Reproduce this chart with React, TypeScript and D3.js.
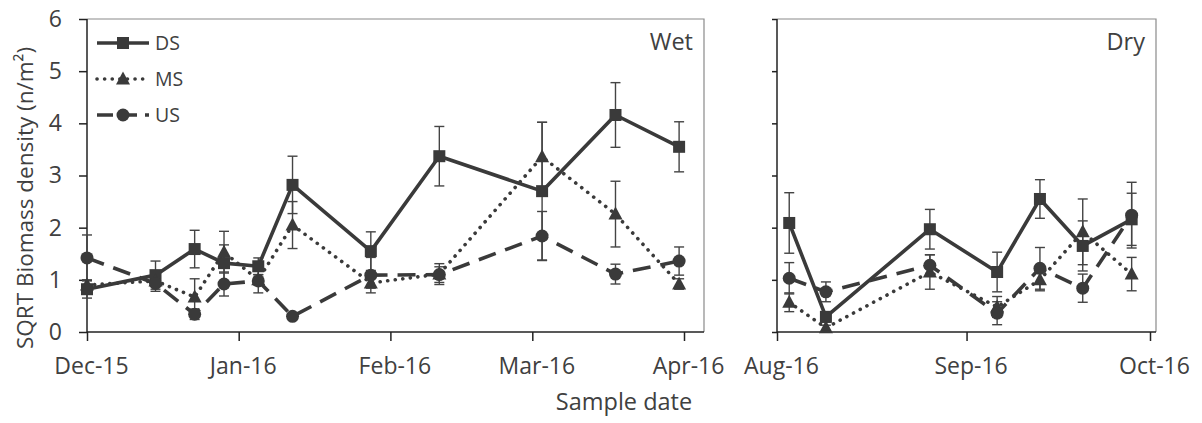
import React, { useEffect, useRef } from 'react';
import * as d3 from 'd3';

// series order: DS, MS, US
const seriesNames = ['DS', 'MS', 'US'];

const wetDates = ['2015-12-01', '2015-12-15', '2015-12-23', '2015-12-29', '2016-01-05', '2016-01-12',
  '2016-01-28', '2016-02-11', '2016-03-03', '2016-03-18', '2016-03-31'];
const wetDS = [0.82, 1.09, 1.59, 1.32, 1.26, 2.82, 1.55, 3.37, 2.70, 4.16, 3.55];
const wetDSErr = [0.17, 0.27, 0.36, 0.35, 0.16, 0.55, 0.37, 0.57, 1.32, 0.62, 0.48];
const wetMS = [0.90, 0.98, 0.67, 1.53, 1.00, 2.05, 0.94, 1.11, 3.36, 2.26, 0.92];
const wetMSErr = [0.10, 0.10, 0.35, 0.40, 0.10, 0.45, 0.10, 0.20, 0.66, 0.63, 0.10];
const wetUS = [1.42, 0.93, 0.34, 0.92, 0.98, 0.30, 1.09, 1.10, 1.84, 1.11, 1.36];
const wetUSErr = [0.44, 0.15, 0.10, 0.23, 0.23, 0.05, 0.34, 0.15, 0.47, 0.19, 0.27];

const dryDates = ['2016-08-03', '2016-08-09', '2016-08-26', '2016-09-06', '2016-09-13', '2016-09-20', '2016-09-28'];
const dryDS = [2.09, 0.29, 1.97, 1.15, 2.55, 1.65, 2.16];
const dryDSErr = [0.58, 0.10, 0.38, 0.38, 0.37, 0.48, 0.50];
const dryMS = [0.57, 0.08, 1.15, 0.48, 1.00, 1.92, 1.11];
const dryMSErr = [0.18, 0.05, 0.33, 0.20, 0.21, 0.63, 0.32];
const dryUS = [1.03, 0.77, 1.28, 0.36, 1.22, 0.84, 2.24];
const dryUSErr = [0.30, 0.19, 0.20, 0.22, 0.40, 0.27, 0.63];

const wetTicks = ['2015-12-01', '2016-01-01', '2016-02-01', '2016-03-01', '2016-04-01'];
const dryTicks = ['2016-08-01', '2016-09-01', '2016-10-01'];
const yTicks = [0, 1, 2, 3, 4, 5, 6];

const FONT = '"Open Sans", sans-serif';
const INK = '#3a3a3a';
const TXT = '#404040';

const parse = d3.timeParse('%Y-%m-%d');

const App: React.FC = () => {
  const svgRef = useRef<SVGSVGElement>(null);

  useEffect(() => {
    if (!svgRef.current) return;
    const svg = d3.select(svgRef.current).html('');

    const y = d3.scaleLinear().domain([0, 6]).range([332, 19]);
    const top = 19;
    const bottom = 332;

    const dashes: Record<string, string> = { DS: '', MS: '0.1 7.5', US: '18 10' };
    const caps: Record<string, string> = { DS: 'butt', MS: 'round', US: 'butt' };

    const marker = (sel: any, name: string, cx: number, cy: number) => {
      if (name === 'DS') {
        sel.append('rect').attr('x', cx - 6).attr('y', cy - 6).attr('width', 12).attr('height', 12).attr('fill', INK);
      } else if (name === 'MS') {
        sel.append('path').attr('d', `M${cx},${cy - 7.5}L${cx + 7},${cy + 5.5}L${cx - 7},${cy + 5.5}Z`).attr('fill', INK);
      } else {
        sel.append('circle').attr('cx', cx).attr('cy', cy).attr('r', 6.5).attr('fill', INK);
      }
    };

    const drawPanel = (
      x0: number, x1: number, dateStrs: string[], ticks: string[],
      vals: number[][], errs: number[][], label: string, showY: boolean, yTick: number
    ) => {
      const x = d3.scaleTime()
        .domain([parse(ticks[0]) as Date, parse(ticks[ticks.length - 1]) as Date])
        .range([x0, showY ? 684 : 1150]);
      const dates = dateStrs.map(d => parse(d) as Date);
      const g = svg.append('g');

      // frame: top & right grey
      g.append('path').attr('d', `M${x0},${top}H${x1}V${bottom}`)
        .attr('fill', 'none').attr('stroke', '#8a8a8a').attr('stroke-width', 1.2);

      // y axis
      const yAxis = d3.axisLeft(y).tickValues(yTicks).tickSize(yTick).tickSizeOuter(0).tickPadding(25 - yTick)
        .tickFormat(showY ? (d3.format('d') as any) : () => '');
      const ya = g.append('g').attr('transform', `translate(${x0},0)`).call(yAxis);
      ya.select('.domain').remove();
      ya.selectAll('line').attr('stroke', '#222').attr('stroke-width', 1.5);
      ya.selectAll('text').attr('font-family', FONT).attr('font-size', 23).attr('fill', TXT);

      // x axis
      const xAxis = d3.axisBottom(x).tickValues(ticks.map(t => parse(t) as Date)).tickSize(9).tickSizeOuter(0)
        .tickPadding(17).tickFormat(d3.timeFormat('%b-%y') as any);
      const xa = g.append('g').attr('transform', `translate(0,${bottom})`).call(xAxis);
      xa.select('.domain').remove();
      xa.selectAll('line').attr('stroke', '#222').attr('stroke-width', 1.5);
      xa.selectAll('text').attr('font-family', FONT).attr('font-size', 23).attr('fill', TXT).attr('dx', 4);

      g.append('line').attr('x1', x0).attr('x2', x0).attr('y1', top).attr('y2', bottom)
        .attr('stroke', '#222').attr('stroke-width', 1.5);
      g.append('line').attr('x1', x0).attr('x2', x1).attr('y1', bottom).attr('y2', bottom)
        .attr('stroke', '#222').attr('stroke-width', 1.5);

      // error bars
      seriesNames.forEach((name, si) => {
        dates.forEach((d, i) => {
          const cx = x(d);
          const hi = y(vals[si][i] + errs[si][i]);
          const lo = y(Math.max(0, vals[si][i] - errs[si][i]));
          const eb = g.append('g').attr('stroke', '#444').attr('stroke-width', 1.4);
          eb.append('line').attr('x1', cx).attr('x2', cx).attr('y1', hi).attr('y2', lo);
          eb.append('line').attr('x1', cx - 5).attr('x2', cx + 5).attr('y1', hi).attr('y2', hi);
          eb.append('line').attr('x1', cx - 5).attr('x2', cx + 5).attr('y1', lo).attr('y2', lo);
        });
      });

      // lines and markers
      seriesNames.forEach((name, si) => {
        const line = d3.line<number>().x((_, i) => x(dates[i])).y(v => y(v));
        g.append('path').datum(vals[si]).attr('d', line).attr('fill', 'none')
          .attr('stroke', INK).attr('stroke-width', 3.6)
          .attr('stroke-dasharray', dashes[name]).attr('stroke-linecap', caps[name])
          .attr('stroke-linejoin', 'round');
        vals[si].forEach((v, i) => marker(g, name, x(dates[i]), y(v)));
      });

      g.append('text').attr('x', x1 - 11).attr('y', 50).attr('text-anchor', 'end')
        .attr('font-family', FONT).attr('font-size', 23.5).attr('fill', TXT).text(label);
    };

    drawPanel(87, 704, wetDates, wetTicks, [wetDS, wetMS, wetUS], [wetDSErr, wetMSErr, wetUSErr], 'Wet', true, 8);
    drawPanel(777, 1156, dryDates, dryTicks, [dryDS, dryMS, dryUS], [dryDSErr, dryMSErr, dryUSErr], 'Dry', false, 5);

    // legend
    const lg = svg.append('g');
    seriesNames.forEach((name, i) => {
      const ly = 43 + i * 36;
      lg.append('line').attr('x1', 97).attr('x2', 149).attr('y1', ly).attr('y2', ly)
        .attr('stroke', INK).attr('stroke-width', 3.6)
        .attr('stroke-dasharray', name === 'US' ? '16 8' : dashes[name]).attr('stroke-linecap', caps[name]);
      marker(lg, name, 123, ly);
      lg.append('text').attr('x', 155).attr('y', ly + 7).attr('font-family', FONT).attr('font-size', 19.5)
        .attr('fill', TXT).text(name);
    });

    // axis titles
    svg.append('text').attr('transform', 'translate(33,198) rotate(-90)').attr('text-anchor', 'middle')
      .attr('font-family', FONT).attr('font-size', 22.5).attr('fill', TXT).text('SQRT Biomass density (n/m²)');
    svg.append('text').attr('x', 624).attr('y', 410).attr('text-anchor', 'middle')
      .attr('font-family', FONT).attr('font-size', 23.5).attr('fill', TXT).text('Sample date');
  }, []);

  return (
    <svg ref={svgRef} width={1202} height={423}
      style={{ position: 'absolute', left: 0, top: 0, background: '#fff' }} />
  );
};

export default App;
